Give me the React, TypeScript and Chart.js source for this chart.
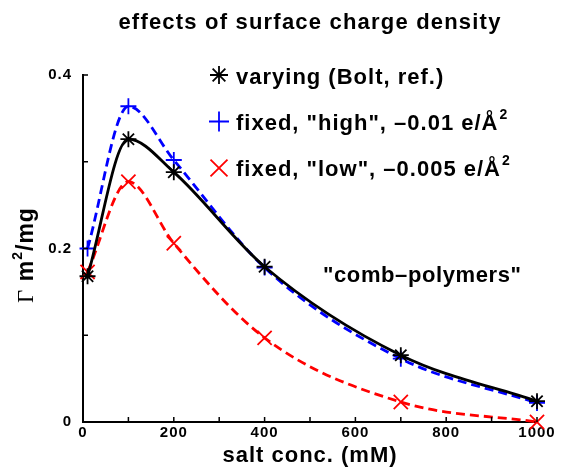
import React, { useEffect, useRef } from 'react';
import { Chart, registerables } from 'chart.js';

Chart.register(...registerables);

// Salt concentration (mM) and adsorbed amount (Γ, m²/mg) for each charge model
const saltConc = [10, 100, 200, 400, 700, 1000];
const varyingBolt = [0.168, 0.326, 0.288, 0.179, 0.077, 0.024];
const fixedHigh = [0.2, 0.364, 0.302, 0.178, 0.073, 0.022];
const fixedLow = [0.173, 0.277, 0.206, 0.097, 0.023, 0.0];

const xTickLabels = [0, 200, 400, 600, 800, 1000];
const yTickLabels = [0, 0.2, 0.4];

const seriesNames = ['varying (Bolt, ref.)', 'fixed, "high", \u20130.01 e/\u00c5', 'fixed, "low", \u20130.005 e/\u00c5'];
const seriesSuperscripts = ['', '2', '2'];
const seriesColors = ['#000000', '#0000ff', '#ff0000'];
const seriesMarkers = ['star', 'cross', 'crossRot'];

const titleText = 'effects of surface charge density';
const noteText = '"comb\u2013polymers"';
const xTitleText = 'salt conc. (mM)';

const SANS = "'Liberation Sans', Arial, Helvetica, sans-serif";
const SERIF = "'Liberation Serif', 'Times New Roman', serif";

function toPoints(values: number[]) {
  return saltConc.map((x, i) => ({ x, y: values[i] }));
}

function drawMarker(ctx: CanvasRenderingContext2D, style: string, x: number, y: number, r: number, color: string, lw: number) {
  ctx.save();
  ctx.strokeStyle = color;
  ctx.lineWidth = lw;
  ctx.beginPath();
  const arm = (a: number) => {
    ctx.moveTo(x - Math.cos(a) * r, y - Math.sin(a) * r);
    ctx.lineTo(x + Math.cos(a) * r, y + Math.sin(a) * r);
  };
  if (style === 'star' || style === 'cross') {
    arm(0);
    arm(Math.PI / 2);
  }
  if (style === 'star' || style === 'crossRot') {
    arm(Math.PI / 4);
    arm(-Math.PI / 4);
  }
  ctx.stroke();
  ctx.restore();
}

const textSpacing = {
  id: 'textSpacing',
  beforeDraw(chart: any) {
    (chart.ctx as any).letterSpacing = '1px';
  },
};

const decorations = {
  id: 'decorations',
  afterDraw(chart: any) {
    const ctx: CanvasRenderingContext2D = chart.ctx;
    const xs = chart.scales.x;
    const ys = chart.scales.y;
    const area = chart.chartArea;

    // inward tick marks
    ctx.save();
    ctx.strokeStyle = '#000';
    ctx.lineWidth = 1.5;
    ctx.beginPath();
    xs.ticks.forEach((t: any) => {
      const px = xs.getPixelForValue(t.value);
      ctx.moveTo(px, area.bottom);
      ctx.lineTo(px, area.bottom - 5);
    });
    ys.ticks.forEach((t: any) => {
      const py = ys.getPixelForValue(t.value);
      ctx.moveTo(area.left, py);
      ctx.lineTo(area.left + 5, py);
    });
    ctx.stroke();
    ctx.restore();

    ctx.save();
    ctx.fillStyle = '#000';
    ctx.textBaseline = 'alphabetic';

    // title
    (ctx as any).letterSpacing = '1.2px';
    ctx.font = `bold 22px ${SANS}`;
    ctx.textAlign = 'center';
    ctx.fillText(titleText, (area.left + area.right) / 2, 29);

    // legend
    (ctx as any).letterSpacing = '1px';
    ctx.textAlign = 'left';
    const legendX = 236;
    const rowBase = [84, 130, 176];
    const markerY = [75, 121.5, 168];
    const markerR = [9, 10, 12];
    seriesNames.forEach((name, i) => {
      drawMarker(ctx, seriesMarkers[i], 219, markerY[i], markerR[i], seriesColors[i], 1.8);
      ctx.font = `bold 22px ${SANS}`;
      ctx.fillText(name, legendX, rowBase[i]);
      if (seriesSuperscripts[i]) {
        const w = ctx.measureText(name).width;
        ctx.font = `bold 14px ${SANS}`;
        ctx.fillText(seriesSuperscripts[i], legendX + w + 1, rowBase[i] - 11);
      }
    });

    // annotation
    (ctx as any).letterSpacing = '0.6px';
    ctx.font = `bold 22px ${SANS}`;
    ctx.fillText(noteText, 323, 282);

    // y-axis title: Γ m²/mg
    (ctx as any).letterSpacing = '1px';
    const parts = [
      { t: '\u0393', f: `23px ${SERIF}`, dy: 0 },
      { t: ' m', f: `bold 23px ${SANS}`, dy: 0 },
      { t: '2', f: `bold 14px ${SANS}`, dy: -11 },
      { t: '/mg', f: `bold 23px ${SANS}`, dy: 0 },
    ];
    let total = 0;
    const widths = parts.map((p) => {
      ctx.font = p.f;
      const w = ctx.measureText(p.t).width;
      total += w;
      return w;
    });
    ctx.translate(33, 255);
    ctx.rotate(-Math.PI / 2);
    let cx = -total / 2;
    parts.forEach((p, i) => {
      ctx.font = p.f;
      ctx.fillText(p.t, cx, p.dy);
      cx += widths[i];
    });
    ctx.restore();
  },
};

export default function App() {
  const canvasRef = useRef<HTMLCanvasElement | null>(null);

  useEffect(() => {
    const canvas = canvasRef.current;
    if (!canvas) return;

    const seriesValues = [varyingBolt, fixedHigh, fixedLow];
    const datasets = seriesValues.map((vals, i) => ({
      label: seriesNames[i],
      data: toPoints(vals),
      borderColor: seriesColors[i],
      backgroundColor: 'transparent',
      borderWidth: 2.8,
      borderDash: i === 0 ? [] : [9, 5],
      cubicInterpolationMode: 'monotone' as const,
      pointStyle: seriesMarkers[i],
      pointRadius: i === 2 ? 10 : 8,
      pointBorderWidth: 1.8,
      pointBorderColor: seriesColors[i],
      pointBackgroundColor: 'transparent',
      clip: false as any,
    }));

    const tickFont = { family: SANS, size: 15, weight: 'bold' as const };

    const chart = new Chart(canvas, {
      type: 'line',
      data: { datasets },
      options: {
        animation: false,
        responsive: false,
        devicePixelRatio: 1,
        layout: { padding: { top: 75, right: 24, left: 0, bottom: 0 } },
        plugins: {
          legend: { display: false },
          title: { display: false },
          tooltip: { enabled: false },
        },
        scales: {
          x: {
            type: 'linear',
            min: 0,
            max: 1000,
            grid: { display: false, drawTicks: false },
            border: { display: true, color: '#000', width: 2 },
            ticks: {
              stepSize: 100,
              autoSkip: false,
              maxRotation: 0,
              padding: 2,
              color: '#000',
              font: tickFont,
              callback: (v: any) => (xTickLabels.includes(Number(v)) ? String(v) : ''),
            },
            title: {
              display: true,
              text: xTitleText,
              color: '#000',
              font: { family: SANS, size: 22, weight: 'bold' },
              padding: { top: 0, bottom: 1 },
            },
            afterFit: (s: any) => {
              s.height = 48;
            },
          },
          y: {
            type: 'linear',
            min: 0,
            max: 0.4,
            grid: { display: false, drawTicks: false },
            border: { display: true, color: '#000', width: 2 },
            ticks: {
              stepSize: 0.1,
              autoSkip: false,
              padding: 11,
              color: '#000',
              font: tickFont,
              callback: (v: any) => {
                const r = Math.round(Number(v) * 10) / 10;
                return yTickLabels.includes(r) ? String(r) : '';
              },
            },
            afterFit: (s: any) => {
              s.width = 83;
            },
          },
        },
      },
      plugins: [textSpacing, decorations],
    });

    return () => chart.destroy();
  }, []);

  return (
    <div style={{ position: 'absolute', left: 0, top: 0, width: 561, height: 470, background: '#fff' }}>
      <canvas ref={canvasRef} width={561} height={470} style={{ display: 'block' }} />
    </div>
  );
}
